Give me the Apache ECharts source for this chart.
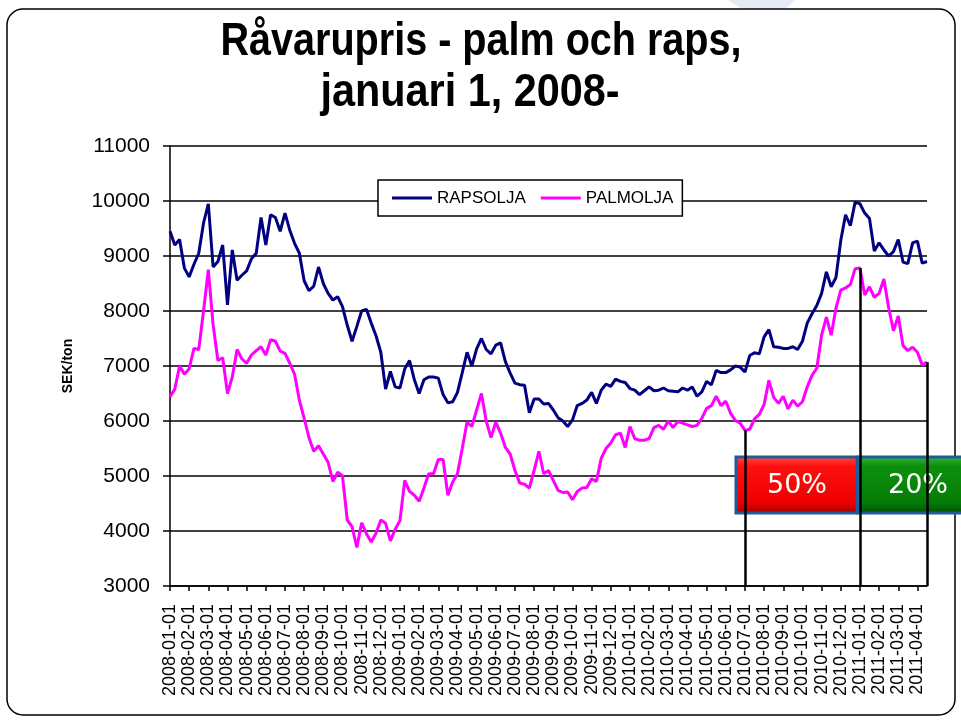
<!DOCTYPE html>
<html>
<head>
<meta charset="utf-8">
<script src="https://cdn.jsdelivr.net/npm/echarts@6/dist/echarts.min.js"></script>
<style>
html, body { margin: 0; padding: 0; background: #fff; }
#main { width: 961px; height: 721px; }
</style>
</head>
<body>
<div id="main"></div>
<script>
// månader på x-axeln (etiketter)
var months = ['2008-01', '2008-02', '2008-03', '2008-04', '2008-05', '2008-06', '2008-07', '2008-08',
    '2008-09', '2008-10', '2008-11', '2008-12', '2009-01', '2009-02', '2009-03', '2009-04',
    '2009-05', '2009-06', '2009-07', '2009-08', '2009-09', '2009-10', '2009-11', '2009-12',
    '2010-01', '2010-02', '2010-03', '2010-04', '2010-05', '2010-06', '2010-07', '2010-08',
    '2010-09', '2010-10', '2010-11', '2010-12', '2011-01', '2011-02', '2011-03', '2011-04'];
var days = ['-01', '-08', '-16', '-23'];   // fyra avläsningar per månad

// SEK/ton
var rapsolja = [
    9450, 9200, 9300, 8780, 8620, 8850, 9050, 9600, 9950, 8800, 8900, 9200,
    8110, 9110, 8560, 8650, 8730, 8950, 9050, 9700, 9200, 9750, 9700, 9450,
    9780, 9470, 9230, 9050, 8550, 8370, 8450, 8800, 8500, 8320, 8200, 8260,
    8080, 7740, 7450, 7720, 8000, 8030, 7780, 7550, 7250, 6580, 6900, 6620,
    6600, 6950, 7100, 6750, 6500, 6750, 6800, 6800, 6780, 6480, 6330, 6350,
    6520, 6880, 7250, 7000, 7310, 7500, 7300, 7220, 7380, 7420, 7080, 6870,
    6690, 6660, 6650, 6150, 6400, 6400, 6310, 6320, 6200, 6060, 6000, 5900,
    6020, 6280, 6320, 6380, 6520, 6320, 6560, 6670, 6630, 6760, 6720, 6700,
    6590, 6560, 6480, 6550, 6620, 6550, 6560, 6600, 6550, 6540, 6530, 6600,
    6560, 6620, 6450, 6530, 6720, 6660, 6920, 6880, 6880, 6930, 7000, 6980,
    6890, 7190, 7240, 7220, 7530, 7660, 7350, 7340, 7320, 7320, 7350, 7300,
    7450, 7780, 7950, 8100, 8320, 8710, 8440, 8610, 9280, 9750, 9550, 9980,
    9950, 9780, 9680, 9090, 9240, 9110, 9000, 9080, 9300, 8890, 8860, 9240,
    9270, 8870, 8900
];
var palmolja = [
    6440, 6580, 7000, 6850, 6950, 7320, 7300, 8000, 8750, 7750, 7100, 7150,
    6500, 6800, 7300, 7130, 7050, 7200, 7280, 7350, 7200, 7480, 7450, 7270,
    7230, 7050, 6850, 6380, 6050, 5700, 5450, 5550, 5400, 5250, 4900, 5070,
    5000, 4200, 4080, 3700, 4150, 3950, 3800, 3960, 4200, 4140, 3820, 4030,
    4190, 4920, 4720, 4650, 4540, 4780, 5040, 5040, 5300, 5300, 4650, 4890,
    5040, 5500, 5980, 5900, 6200, 6500, 6000, 5700, 5980, 5780, 5520, 5400,
    5100, 4870, 4850, 4780, 5100, 5450, 5040, 5100, 4920, 4740, 4700, 4710,
    4570, 4720, 4780, 4790, 4950, 4900, 5320, 5500, 5600, 5750, 5780, 5520,
    5900, 5680, 5650, 5650, 5680, 5880, 5920, 5850, 6000, 5880, 5990, 5960,
    5930, 5900, 5920, 6050, 6230, 6280, 6450, 6280, 6360, 6140, 6010, 5960,
    5830, 5850, 6040, 6120, 6300, 6740, 6430, 6320, 6450, 6220, 6380, 6270,
    6350, 6620, 6830, 6960, 7560, 7890, 7560, 8050, 8380, 8420, 8480, 8770,
    8780, 8290, 8440, 8250, 8320, 8580, 8060, 7640, 7910, 7370, 7280, 7340,
    7250, 7020, 7070
];

var cats = [];
for (var m = 0; m < months.length; m++) {
    for (var d = 0; d < days.length; d++) {
        cats.push(months[m] + days[d]);
    }
}
cats = cats.slice(0, rapsolja.length);

// index där de svarta linjerna står
var marks = [120, 144, rapsolja.length - 1];

function monthStart(index) {
    return index % 4 === 0;
}

var myChart = echarts.init(document.getElementById('main'));

var option = {
    animation: false,
    backgroundColor: '#fff',
    textStyle: { fontFamily: 'Liberation Sans' },
    grid: {
        left: 170,
        right: 34,
        top: 146,
        bottom: 135
    },
    legend: {
        data: ['RAPSOLJA', 'PALMOLJA'],
        left: 378,
        top: 180,
        padding: [9, 9, 9, 14],
        icon: 'rect',
        itemWidth: 40,
        itemHeight: 3,
        itemGap: 15,
        borderColor: '#000',
        borderWidth: 1.5,
        backgroundColor: '#fff',
        textStyle: { fontSize: 17, color: '#000', fontFamily: 'Liberation Sans', lineHeight: 18 }
    },
    xAxis: {
        type: 'category',
        data: cats,
        boundaryGap: false,
        axisLine: { lineStyle: { color: '#000', width: 1.5 } },
        axisTick: { interval: monthStart, length: 5, lineStyle: { color: '#000', width: 1.5 } },
        axisLabel: {
            interval: monthStart,
            rotate: 90,
            fontSize: 18,
            color: '#000',
            margin: 18,
            fontFamily: 'Liberation Sans'
        },
        splitLine: { show: false }
    },
    yAxis: {
        type: 'value',
        min: 3000,
        max: 11000,
        interval: 1000,
        name: 'SEK/ton',
        nameLocation: 'middle',
        nameGap: 95,
        nameRotate: 90,
        nameTextStyle: { fontWeight: 'bold', fontSize: 14, color: '#000', fontFamily: 'Liberation Sans' },
        axisLine: { show: true, lineStyle: { color: '#000', width: 1.5 } },
        axisTick: { show: true, length: 7, lineStyle: { color: '#000', width: 1.5 } },
        axisLabel: {
            fontSize: 21,
            color: '#000',
            margin: 20,
            fontFamily: 'Liberation Sans',
            formatter: function (v) { return String(v); }
        },
        splitLine: { lineStyle: { color: '#000', width: 1.5 } }
    },
    series: [
        {
            name: 'RAPSOLJA',
            type: 'line',
            data: rapsolja,
            symbol: 'none',
            lineStyle: { color: '#000080', width: 3 },
            itemStyle: { color: '#000080' }
        },
        {
            name: 'PALMOLJA',
            type: 'line',
            data: palmolja,
            symbol: 'none',
            lineStyle: { color: '#ff00ff', width: 3 },
            itemStyle: { color: '#ff00ff' },
            markLine: {
                silent: true,
                symbol: 'none',
                label: { show: false },
                lineStyle: { color: '#000', width: 2.5, type: 'solid' },
                data: marks.map(function (i) {
                    return [{ coord: [cats[i], 3000] }, { coord: [cats[i], palmolja[i]] }];
                })
            }
        }
    ],
    graphic: [
        {   // ljusblå bit bakom ramen
            type: 'polygon',
            z: 0,
            shape: { points: [[728, 0], [795, 0], [786, 9], [742, 9]] },
            style: { fill: '#e6ecf5' }
        },
        {
            type: 'rect',
            z: 1,
            shape: { x: 7, y: 9, width: 948, height: 706, r: 16 },
            style: { fill: 'none', stroke: '#000', lineWidth: 1.5 }
        },
        {
            type: 'text',
            x: 481, y: 42,
            scaleX: 0.86,
            style: {
                text: 'Råvarupris - palm och raps,',
                font: 'bold 46px "Liberation Sans"',
                fill: '#000',
                align: 'center', verticalAlign: 'middle',
                textAlign: 'center', textVerticalAlign: 'middle'
            }
        },
        {
            type: 'text',
            x: 470, y: 93,
            scaleX: 0.9,
            style: {
                text: 'januari 1, 2008-',
                font: 'bold 46px "Liberation Sans"',
                fill: '#000',
                align: 'center', verticalAlign: 'middle',
                textAlign: 'center', textVerticalAlign: 'middle'
            }
        },
        {
            type: 'rect',
            z: 1,
            shape: { x: 736, y: 457, width: 121, height: 56 },
            style: {
                fill: new echarts.graphic.LinearGradient(0, 0, 0, 1, [
                    { offset: 0, color: '#ff5050' },
                    { offset: 0.18, color: '#ff1010' },
                    { offset: 0.8, color: '#ee0000' },
                    { offset: 1, color: '#990000' }
                ]),
                stroke: '#1f5c99',
                lineWidth: 3
            }
        },
        {
            type: 'text',
            z: 2,
            x: 797, y: 486,
            style: {
                text: '50%',
                font: '27px "DejaVu Sans"',
                fill: '#fff',
                align: 'center', verticalAlign: 'middle',
                textAlign: 'center', textVerticalAlign: 'middle'
            }
        },
        {
            type: 'rect',
            z: 1,
            shape: { x: 858, y: 457, width: 110, height: 56 },
            style: {
                fill: new echarts.graphic.LinearGradient(0, 0, 0, 1, [
                    { offset: 0, color: '#3cb43c' },
                    { offset: 0.18, color: '#0c900c' },
                    { offset: 0.8, color: '#067c06' },
                    { offset: 1, color: '#034a03' }
                ]),
                stroke: '#1f5c99',
                lineWidth: 3
            }
        },
        {
            type: 'text',
            z: 2,
            x: 918, y: 486,
            style: {
                text: '20%',
                font: '27px "DejaVu Sans"',
                fill: '#fff',
                align: 'center', verticalAlign: 'middle',
                textAlign: 'center', textVerticalAlign: 'middle'
            }
        }
    ]
};

myChart.setOption(option);
</script>
</body>
</html>
